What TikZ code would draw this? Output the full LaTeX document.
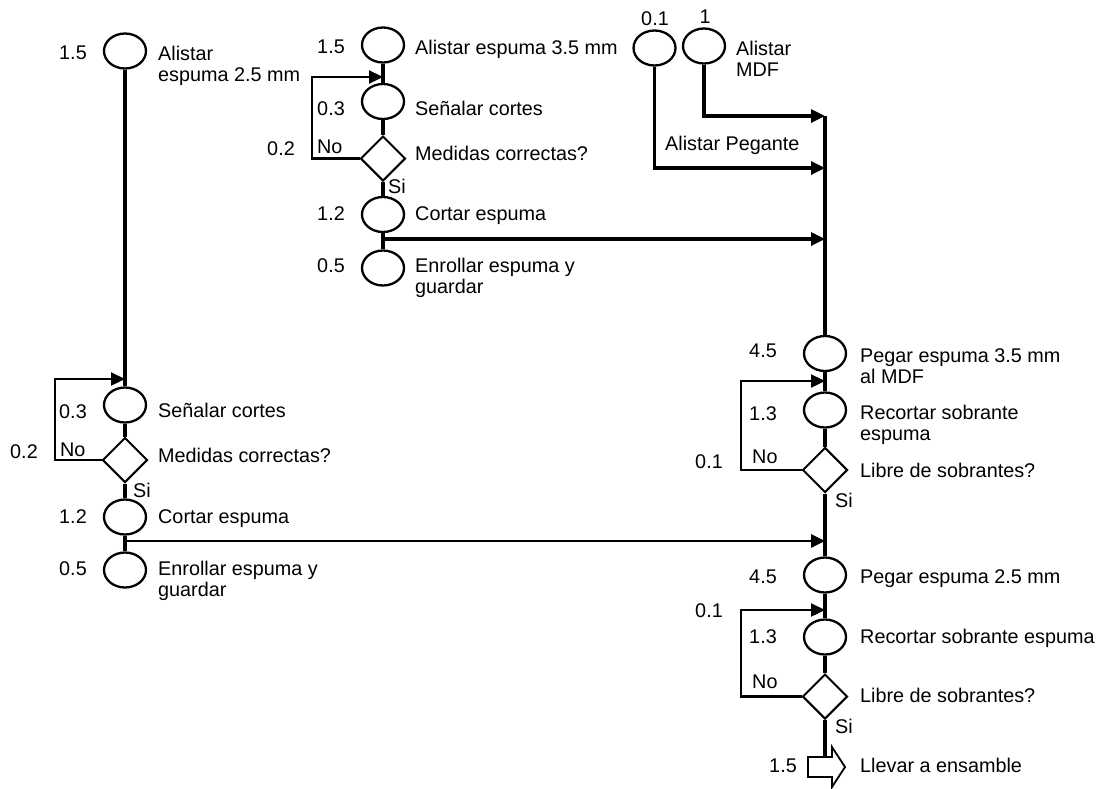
\documentclass[tikz,border=0pt]{standalone}
\usepackage{fontspec}
\setmainfont{Liberation Sans}
\usetikzlibrary{shapes.geometric,arrows.meta}
\newcommand{\twolines}[2]{\begin{tabular}[t]{@{}l@{}}#1\\#2\end{tabular}}
\begin{document}
\begin{tikzpicture}[x=1pt,y=-1pt,
  every node/.style={font=\fontsize{19.8}{21.5}\selectfont, inner sep=0pt},
  act/.style={ellipse, draw, line width=2.3pt, minimum width=42pt, minimum height=35pt},
  dec/.style={diamond, draw, line width=2pt, minimum width=45pt, minimum height=45pt, fill=white},
  txt/.style={anchor=base west},
  num/.style={anchor=base},
  flow/.style={line width=3.2pt},
  back/.style={line width=2.3pt},
  tip/.style={-{Triangle[length=14pt,width=13pt]}}
]
\useasboundingbox (0,0) rectangle (1108,788);
\fill[white] (0,0) rectangle (1108,788);

% ---------- left column ----------
\node[act] (L1) at (125,51) {};
\node[num] at (73,59) {1.5};
\node[txt] at (158,60) {\twolines{Alistar}{espuma 2.5 mm}};
\node[act] (L2) at (125,405) {};
\node[num] at (73,418) {0.3};
\node[txt] at (158,417) {Señalar cortes};
\node[dec] (Ld) at (125,460) {};
\node[num] at (24,458) {0.2};
\node[txt] at (60,456) {No};
\node[txt] at (158,462) {Medidas correctas?};
\node[txt] at (133,497) {Si};
\node[act] (L3) at (125,517) {};
\node[num] at (73,523) {1.2};
\node[txt] at (158,523) {Cortar espuma};
\node[act] (L4) at (125,570) {};
\node[num] at (73,575) {0.5};
\node[txt] at (158,575) {\twolines{Enrollar espuma y}{guardar}};

% ---------- middle column ----------
\node[act] (M1) at (383,45) {};
\node[num] at (331,53) {1.5};
\node[txt] at (415,54) {Alistar espuma 3.5 mm};
\node[act] (M2) at (383,101.5) {};
\node[num] at (331,115) {0.3};
\node[txt] at (415,115) {Señalar cortes};
\node[dec] (Md) at (383,158.5) {};
\node[num] at (281,155) {0.2};
\node[txt] at (317,153) {No};
\node[txt] at (415,160) {Medidas correctas?};
\node[txt] at (388,193) {Si};
\node[act] (M3) at (383,214.5) {};
\node[num] at (331,220) {1.2};
\node[txt] at (415,220) {Cortar espuma};
\node[act] (M4) at (383,268) {};
\node[num] at (331,272) {0.5};
\node[txt] at (415,272) {\twolines{Enrollar espuma y}{guardar}};

% ---------- top right ----------
\node[act] (P) at (654.5,48) {};
\node[num] at (655,25) {0.1};
\node[act] (D) at (704,46) {};
\node[num] at (705,23) {1};
\node[txt] at (736,55) {\twolines{Alistar}{MDF}};
\node[txt] at (665,150) {Alistar Pegante};

% ---------- right column ----------
\node[act] (R1) at (825,353.5) {};
\node[num] at (763,357) {4.5};
\node[txt] at (860,362) {\twolines{Pegar espuma 3.5 mm}{al MDF}};
\node[act] (R2) at (825,410) {};
\node[num] at (763,420) {1.3};
\node[txt] at (860,419) {\twolines{Recortar sobrante}{espuma}};
\node[dec] (Rd) at (825,470) {};
\node[num] at (709,468) {0.1};
\node[txt] at (752,463) {No};
\node[txt] at (860,477) {Libre de sobrantes?};
\node[txt] at (835,507) {Si};
\node[act] (R3) at (825,575) {};
\node[num] at (763,583) {4.5};
\node[txt] at (860,583) {Pegar espuma 2.5 mm};
\node[num] at (709,617) {0.1};
\node[act] (R4) at (825,637) {};
\node[num] at (763,643) {1.3};
\node[txt] at (860,643) {Recortar sobrante espuma};
\node[dec] (Rd2) at (825,696.5) {};
\node[txt] at (752,688) {No};
\node[txt] at (860,702) {Libre de sobrantes?};
\node[txt] at (835,733) {Si};
\node[num] at (783,772) {1.5};
\node[txt] at (860,772) {Llevar a ensamble};

% ---------- coordinates ----------
\coordinate (Lin) at (125,379);
\coordinate (Lcorner) at (55,379);
\coordinate (Lout) at (125,541);
\coordinate (Min) at (383,77);
\coordinate (Mcorner) at (312,77);
\coordinate (Mout) at (383,239);
\coordinate (Dcorner) at (704,116);
\coordinate (Pcorner) at (654.5,168);
\coordinate (Rin0) at (825,116);
\coordinate (Rin1) at (825,168);
\coordinate (Rin2) at (825,239);
\coordinate (Rin3) at (825,541);
\coordinate (R1in) at (825,381);
\coordinate (R1corner) at (741,381);
\coordinate (R3in) at (825,610);
\coordinate (R3corner) at (741,610);
\coordinate (Tgt) at (825,757);

% ---------- connectors ----------
\draw[flow] (L1.south) -- (L2.north);
\draw[flow] (L2.south) -- (Ld.north);
\draw[flow] (Ld.south) -- (L3.north);
\draw[flow] (L3.south) -- (L4.north);
\draw[back,tip] (Ld.west) -| (Lcorner) -- (Lin);
\draw[line width=2.6pt,tip] (Lout) -- (Rin3);

\draw[flow] (M1.south) -- (M2.north);
\draw[flow] (M2.south) -- (Md.north);
\draw[flow] (Md.south) -- (M3.north);
\draw[flow] (M3.south) -- (M4.north);
\draw[back,tip] (Md.west) -| (Mcorner) -- (Min);
\draw[flow,tip] (Mout) -- (Rin2);

\draw[flow,tip] (D.south) -- (Dcorner) -- (Rin0);
\draw[flow,tip] (P.south) -- (Pcorner) -- (Rin1);

\draw[flow] (Rin0) -- (R1.north);
\draw[flow] (R1.south) -- (R2.north);
\draw[flow] (R2.south) -- (Rd.north);
\draw[flow] (Rd.south) -- (R3.north);
\draw[flow] (R3.south) -- (R4.north);
\draw[flow] (R4.south) -- (Rd2.north);
\draw[back,tip] (Rd.west) -| (R1corner) -- (R1in);
\draw[back,tip] (Rd2.west) -| (R3corner) -- (R3in);
\draw[flow] (Rd2.south) -- (Tgt);

% block arrow (transport)
\draw[line width=1.8pt, fill=white] (808,757) -- (832,757) -- (832,747) -- (845,767) -- (832,787) -- (832,777) -- (808,777) -- cycle;
\end{tikzpicture}
\end{document}
